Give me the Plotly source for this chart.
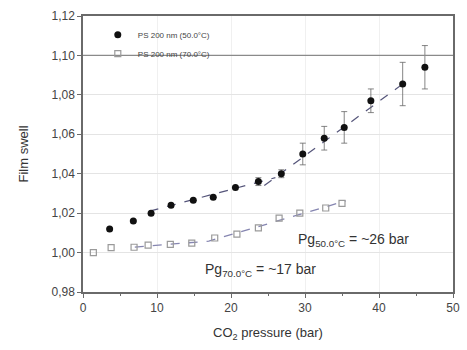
import plotly.graph_objects as go

# 50.0 °C data
x50 = [3.6, 6.8, 9.2, 11.9, 14.9, 17.6, 20.6, 23.7, 26.8, 29.7, 32.6, 35.3, 38.9, 43.2, 46.2]
y50 = [1.012, 1.016, 1.020, 1.024, 1.0265, 1.028, 1.033, 1.036, 1.040, 1.050, 1.058, 1.0635, 1.077, 1.0855, 1.094]
e50 = [0.0, 0.0, 0.0, 0.0, 0.0, 0.0, 0.0, 0.002, 0.002, 0.0055, 0.006, 0.008, 0.006, 0.011, 0.011]

# 70.0 °C data
x70 = [1.4, 3.8, 6.9, 8.8, 11.8, 14.7, 17.8, 20.8, 23.7, 26.5, 29.3, 32.8, 35.0]
y70 = [1.000, 1.0025, 1.0027, 1.0038, 1.0042, 1.0048, 1.0074, 1.0094, 1.0125, 1.0175, 1.0200, 1.0226, 1.0250]

# fitted lines
fitA_x = [9.0, 26.0]
fitA_y = [1.0210, 1.0380]
fitB_x = [24.5, 43.2]
fitB_y = [1.0340, 1.0855]
fit70_x = [7.0, 17.0, 35.5]
fit70_y = [1.0028, 1.0058, 1.0262]

xticks = [0, 10, 20, 30, 40, 50]
yticks = [0.98, 1.00, 1.02, 1.04, 1.06, 1.08, 1.10, 1.12]
ytick_labels = ["0,98", "1,00", "1,02", "1,04", "1,06", "1,08", "1,10", "1,12"]

fig = go.Figure()

fig.add_trace(go.Scatter(x=fitA_x, y=fitA_y, mode="lines", showlegend=False,
                         line=dict(color="#55557a", width=1.2, dash="dash")))
fig.add_trace(go.Scatter(x=fitB_x, y=fitB_y, mode="lines", showlegend=False,
                         line=dict(color="#55557a", width=1.2, dash="dash")))
fig.add_trace(go.Scatter(x=fit70_x, y=fit70_y, mode="lines", showlegend=False,
                         line=dict(color="#8585b0", width=1.3, dash="dash")))

fig.add_trace(go.Scatter(x=x50, y=y50, mode="markers", name="PS 200 nm (50.0°C)",
                         marker=dict(symbol="circle", size=7, color="#111111"),
                         error_y=dict(type="data", array=e50, visible=True,
                                      color="#666666", thickness=0.8, width=3)))
fig.add_trace(go.Scatter(x=x70, y=y70, mode="markers", name="PS 200 nm (70.0°C)",
                         marker=dict(symbol="square-open", size=6, color="#9a9a9a",
                                     line=dict(width=1.2, color="#9a9a9a"))))

# legend box bottom line
fig.add_shape(type="line", xref="paper", yref="y", x0=0, x1=1, y0=1.10, y1=1.10,
              line=dict(color="#8a8a8a", width=1.2))

fig.add_annotation(x=36.6, y=1.0062, xref="x", yref="y", showarrow=False,
                   text="Pg<sub>50.0°C</sub> = ~26 bar",
                   font=dict(family="Liberation Sans, Arial", size=14, color="#333333"))
fig.add_annotation(x=24.0, y=0.9912, xref="x", yref="y", showarrow=False,
                   text="Pg<sub>70.0°C</sub> = ~17 bar",
                   font=dict(family="Liberation Sans, Arial", size=14, color="#333333"))

fig.update_layout(
    width=467, height=350,
    margin=dict(l=83, r=7, t=16, b=58),
    paper_bgcolor="white", plot_bgcolor="white",
    font=dict(family="Liberation Sans, Arial", size=12, color="#444444"),
    separators=",.",
    legend=dict(x=0.04, y=0.985, xanchor="left", yanchor="top",
                bgcolor="rgba(0,0,0,0)", font=dict(size=8, color="#444444"),
                itemsizing="trace", tracegroupgap=0, itemwidth=30),
    xaxis=dict(range=[0, 50], tickvals=xticks, showline=True, linecolor="#6a6a6a",
               linewidth=1.5, mirror=True, ticks="outside", ticklen=4, tickcolor="#6a6a6a",
               showgrid=True, gridcolor="#f0f0f0", zeroline=False,
               minor=dict(dtick=5, ticks="outside", ticklen=2, tickcolor="#6a6a6a", showgrid=False),
               title=dict(text="CO<sub>2</sub> pressure (bar)", font=dict(size=13, color="#333333"),
                          standoff=14)),
    yaxis=dict(range=[0.98, 1.12], tickvals=yticks, ticktext=ytick_labels, showline=True,
               linecolor="#6a6a6a", linewidth=1.5, mirror=True, ticks="outside", ticklen=4,
               tickcolor="#6a6a6a", showgrid=True, gridcolor="#e4e4e4", zeroline=False,
               title=dict(text="Film swell", font=dict(size=13, color="#333333"), standoff=20)),
)

fig.write_html("out.html")
